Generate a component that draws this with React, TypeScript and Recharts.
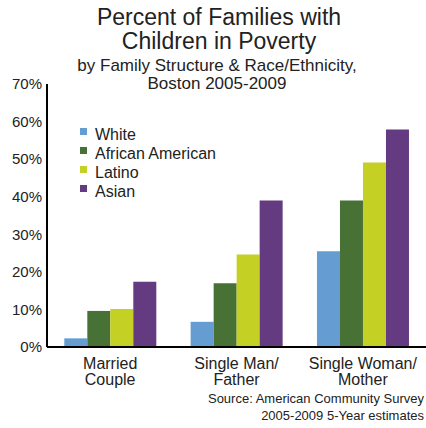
import { BarChart, Bar, XAxis, YAxis } from 'recharts'

// family structure categories (\n = line break on the axis)
const categories = ['Married\nCouple', 'Single Man/\nFather', 'Single Woman/\nMother']

// percent of families with children in poverty
const white = [2.3, 6.7, 25.5]
const africanAmerican = [9.6, 17.0, 39.0]
const latino = [10.1, 24.6, 49.1]
const asian = [17.4, 39.0, 57.9]

const yTicks = [0, 10, 20, 30, 40, 50, 60, 70]

const series = [
  { key: 'white', name: 'White', color: '#659dd3', values: white },
  { key: 'africanAmerican', name: 'African American', color: '#477135', values: africanAmerican },
  { key: 'latino', name: 'Latino', color: '#c4d023', values: latino },
  { key: 'asian', name: 'Asian', color: '#643a80', values: asian },
]

const data = categories.map((c, i) => {
  const row: Record<string, string | number> = { category: c }
  series.forEach((s) => {
    row[s.key] = s.values[i]
  })
  return row
})

const FONT = '"Liberation Sans", Arial, sans-serif'
const TEXT = '#222'

const CategoryTick = (props: any) => {
  const { x, y, payload } = props
  const lines = String(payload.value).split('\n')
  return (
    <text x={x} y={y} textAnchor="middle" fontSize={16} fill={TEXT} fontFamily={FONT}>
      {lines.map((l, i) => (
        <tspan key={i} x={x} y={y + 20 + i * 16}>
          {l}
        </tspan>
      ))}
    </text>
  )
}

export default function App() {
  return (
    <div style={{ position: 'absolute', left: 0, top: 0, width: 426, height: 428, background: '#fff' }}>
      <BarChart
        width={426}
        height={428}
        data={data}
        margin={{ top: 84, right: 0, left: 0, bottom: 41 }}
        barCategoryGap="13.7%"
        barGap={0}
      >
        <XAxis
          dataKey="category"
          height={40}
          axisLine={{ stroke: '#000', strokeWidth: 2 }}
          tickLine={false}
          tickSize={0}
          tick={<CategoryTick />}
          interval={0}
        />
        <YAxis
          width={47}
          domain={[0, 70]}
          ticks={yTicks}
          tickFormatter={(v) => `${v}%`}
          axisLine={{ stroke: '#000', strokeWidth: 2 }}
          tickLine={false}
          tickSize={0}
          tickMargin={5}
          tick={{ fontSize: 15, fill: TEXT, fontFamily: FONT }}
        />
        {series.map((s) => (
          <Bar key={s.key} dataKey={s.key} name={s.name} fill={s.color} isAnimationActive={false} />
        ))}
      </BarChart>
      <svg
        width={426}
        height={428}
        style={{ position: 'absolute', left: 0, top: 0, pointerEvents: 'none' }}
        fontFamily={FONT}
        fill={TEXT}
      >
        <text x={219} y={25} textAnchor="middle" fontSize={23}>Percent of Families with</text>
        <text x={219} y={49} textAnchor="middle" fontSize={23}>Children in Poverty</text>
        <text x={217} y={71} textAnchor="middle" fontSize={17}>by Family Structure &amp; Race/Ethnicity,</text>
        <text x={217} y={89} textAnchor="middle" fontSize={17}>Boston 2005-2009</text>
        {series.map((s, i) => (
          <g key={s.key}>
            <rect x={80} y={128 + i * 19} width={7} height={7} fill={s.color} />
            <text x={95} y={139.5 + i * 19} fontSize={16}>{s.name}</text>
          </g>
        ))}
        <text x={424} y={403} textAnchor="end" fontSize={13}>Source: American Community Survey</text>
        <text x={424} y={420} textAnchor="end" fontSize={13}>2005-2009 5-Year estimates</text>
      </svg>
    </div>
  )
}
